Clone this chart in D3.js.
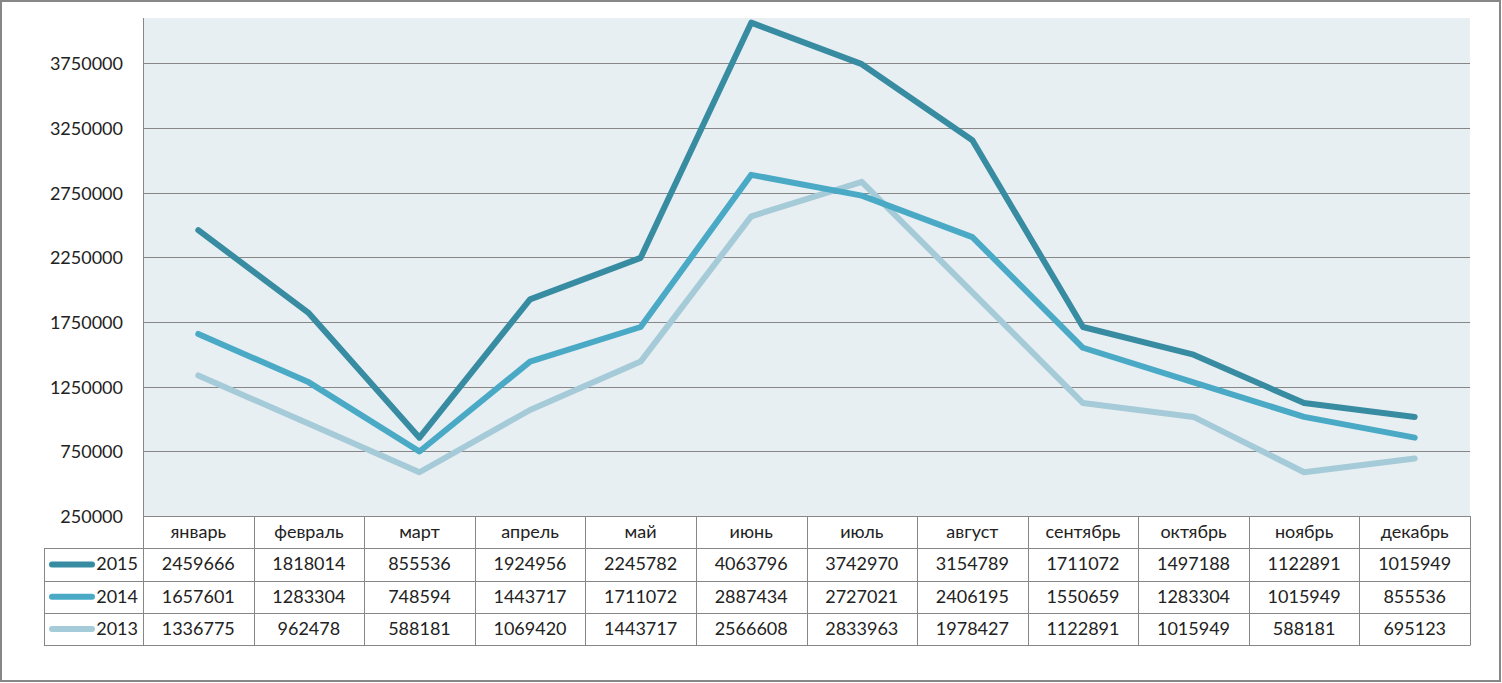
<!DOCTYPE html>
<html>
<head>
<meta charset="utf-8">
<script src="https://cdn.jsdelivr.net/npm/d3@7"></script>
<style>
body { margin: 0; background: #fff; }
svg { display: block; font-family: Lato, "Open Sans", sans-serif; }
</style>
</head>
<body>
<svg id="chart" width="1502" height="683"></svg>
<script>
var months = ["январь","февраль","март","апрель","май","июнь","июль","август","сентябрь","октябрь","ноябрь","декабрь"];
var years = ["2015","2014","2013"];
var v2015 = [2459666,1818014,855536,1924956,2245782,4063796,3742970,3154789,1711072,1497188,1122891,1015949];
var v2014 = [1657601,1283304,748594,1443717,1711072,2887434,2727021,2406195,1550659,1283304,1015949,855536];
var v2013 = [1336775,962478,588181,1069420,1443717,2566608,2833963,1978427,1122891,1015949,588181,695123];
var yTicks = [250000,750000,1250000,1750000,2250000,2750000,3250000,3750000];

var series = [
  {name: years[0], values: v2015, color: "#388ca2"},
  {name: years[1], values: v2014, color: "#4aaac6"},
  {name: years[2], values: v2013, color: "#a6cbd8"}
];

var svg = d3.select("#chart");
var c = {left: 143, right: 1470, top: 18, bottom: 516, tblLeft: 44, rowH: 32.3, grid: "#878787"};

// outer frame
svg.append("rect").attr("x", 1).attr("y", 1).attr("width", 1499).attr("height", 680)
  .attr("fill", "#fff").attr("stroke", "#878787").attr("stroke-width", 2);

var x = d3.scaleBand().domain(months).range([c.left, c.right]);
var y = d3.scaleLinear().domain([250000, 4100000]).range([c.bottom, c.top]);

// plot area
svg.append("rect").attr("x", c.left).attr("y", c.top)
  .attr("width", c.right - c.left).attr("height", c.bottom - c.top)
  .attr("fill", "#e8eff3");

// gridlines
svg.selectAll(".grid").data(yTicks.slice(1)).enter().append("line")
  .attr("x1", c.left).attr("x2", c.right)
  .attr("y1", function(d){ return Math.round(y(d)) + 0.5; })
  .attr("y2", function(d){ return Math.round(y(d)) + 0.5; })
  .attr("stroke", c.grid).attr("stroke-width", 1);

// y labels
svg.selectAll(".ylab").data(yTicks).enter().append("text")
  .attr("x", 123).attr("y", function(d){ return y(d) + 7; })
  .attr("text-anchor", "end").attr("font-size", 18).attr("fill", "#222")
  .text(function(d){ return d; });

// y axis line
svg.append("line").attr("x1", c.left + 0.5).attr("x2", c.left + 0.5)
  .attr("y1", c.top).attr("y2", c.bottom).attr("stroke", c.grid);

// lines
var line = d3.line()
  .x(function(d, i){ return x(months[i]) + x.bandwidth() / 2; })
  .y(function(d){ return y(d); });

svg.selectAll(".series").data(series.slice().reverse()).enter().append("path")
  .attr("d", function(s){ return line(s.values); })
  .attr("fill", "none").attr("stroke", function(s){ return s.color; })
  .attr("stroke-width", 6).attr("stroke-linecap", "round").attr("stroke-linejoin", "round");

// data table
var tbl = svg.append("g");
var tblBottom = c.bottom + c.rowH * 4;

// horizontals
tbl.append("line").attr("x1", c.left).attr("x2", c.right)
  .attr("y1", c.bottom + 0.5).attr("y2", c.bottom + 0.5).attr("stroke", c.grid);
for (var r = 1; r <= 4; r++) {
  var yy = Math.round(c.bottom + c.rowH * r) + 0.5;
  tbl.append("line").attr("x1", c.tblLeft).attr("x2", c.right)
    .attr("y1", yy).attr("y2", yy).attr("stroke", c.grid);
}
// verticals
tbl.append("line").attr("x1", c.tblLeft + 0.5).attr("x2", c.tblLeft + 0.5)
  .attr("y1", Math.round(c.bottom + c.rowH) + 0.5).attr("y2", Math.round(tblBottom) + 0.5).attr("stroke", c.grid);
months.forEach(function(m, i){
  var xx = Math.round(x(m)) + 0.5;
  tbl.append("line").attr("x1", xx).attr("x2", xx)
    .attr("y1", c.bottom).attr("y2", Math.round(tblBottom) + 0.5).attr("stroke", c.grid);
});
tbl.append("line").attr("x1", c.right + 0.5).attr("x2", c.right + 0.5)
  .attr("y1", c.bottom).attr("y2", Math.round(tblBottom) + 0.5).attr("stroke", c.grid);

// month header
tbl.selectAll(".mon").data(months).enter().append("text")
  .attr("x", function(d){ return x(d) + x.bandwidth() / 2; })
  .attr("y", c.bottom + c.rowH / 2 + 6)
  .attr("text-anchor", "middle").attr("font-size", 18).attr("fill", "#222")
  .text(function(d){ return d; });

series.forEach(function(s, r){
  var cy = c.bottom + c.rowH * (r + 1.5);
  tbl.append("line").attr("x1", 52).attr("x2", 92).attr("y1", cy).attr("y2", cy)
    .attr("stroke", s.color).attr("stroke-width", 6).attr("stroke-linecap", "round");
  tbl.append("text").attr("x", 138).attr("y", cy + 6).attr("text-anchor", "end")
    .attr("font-size", 18).attr("fill", "#222").text(s.name);
  tbl.selectAll(".v" + r).data(s.values).enter().append("text")
    .attr("x", function(d, i){ return x(months[i]) + x.bandwidth() / 2; })
    .attr("y", cy + 6)
    .attr("text-anchor", "middle").attr("font-size", 18).attr("fill", "#222")
    .text(function(d){ return d; });
});
</script>
</body>
</html>
